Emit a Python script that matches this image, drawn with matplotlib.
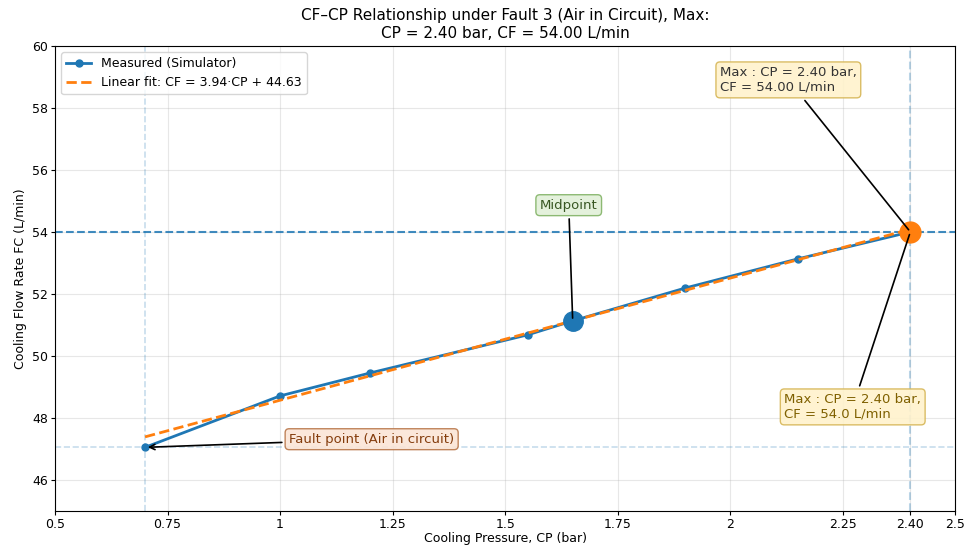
import matplotlib.pyplot as plt
import numpy as np

# measured points (CP in bar, CF in L/min)
cp = [0.70, 1.00, 1.20, 1.55, 1.65, 1.90, 2.15, 2.40]
cf = [47.05, 48.71, 49.45, 50.68, 51.13, 52.19, 53.13, 54.00]

fit_slope = 3.94
fit_intercept = 44.63

mid_cp, mid_cf = 1.65, 51.13
max_cp, max_cf = 2.40, 54.00
fault_cp, fault_cf = 0.70, 47.05

xticks = [0.5, 0.75, 1.0, 1.25, 1.5, 1.75, 2.0, 2.25, 2.40, 2.5]
xtick_labels = ["0.5", "0.75", "1", "1.25", "1.5", "1.75", "2", "2.25", "2.40", "2.5"]
yticks = [46, 48, 50, 52, 54, 56, 58, 60]

fig = plt.figure(figsize=(9.65, 5.47), dpi=100)
ax = fig.add_axes([0.057, 0.066, 0.933, 0.85])

ax.plot(cp, cf, "-o", color="tab:blue", lw=2, ms=5, label="Measured (Simulator)", zorder=3)

x_fit = np.array([min(cp), max(cp)])
ax.plot(x_fit, fit_slope * x_fit + fit_intercept, "--", color="tab:orange", lw=2,
        label=f"Linear fit: CF = {fit_slope:.2f}·CP + {fit_intercept:.2f}", zorder=4)

# reference lines
ax.axhline(max_cf, color="tab:blue", ls="--", lw=1.5, alpha=0.85, zorder=2)
ax.axvline(max_cp, color="tab:blue", ls="--", lw=1.5, alpha=0.3, zorder=2)
ax.axvline(fault_cp, color="tab:blue", ls="--", lw=1.2, alpha=0.25, zorder=2)
ax.axhline(fault_cf, color="tab:blue", ls="--", lw=1.2, alpha=0.25, zorder=2)

# highlighted points
ax.plot(mid_cp, mid_cf, "o", color="tab:blue", ms=14, zorder=5)
ax.plot(max_cp, max_cf, "o", color="tab:orange", ms=15, zorder=5)

ax.annotate(f"Max : CP = {max_cp:.2f} bar,\nCF = {max_cf:.2f} L/min",
            xy=(max_cp, max_cf), xytext=(1.977, 58.55), fontsize=9.5, color="#333333",
            bbox=dict(boxstyle="round,pad=0.3", fc="#fff2cc", ec="#d6b656", alpha=0.9),
            arrowprops=dict(arrowstyle="-", color="black", lw=1.2), zorder=6)

ax.annotate(f"Max : CP = {max_cp:.2f} bar,\nCF = {max_cf:.1f} L/min",
            xy=(max_cp, max_cf), xytext=(2.12, 48.0), fontsize=9.5, color="#7f6000",
            bbox=dict(boxstyle="round,pad=0.3", fc="#fff2cc", ec="#d6b656", alpha=0.9),
            arrowprops=dict(arrowstyle="-", color="black", lw=1.2), zorder=6)

ax.annotate("Midpoint", xy=(mid_cp, mid_cf), xytext=(1.577, 54.75), fontsize=9.5,
            color="#385723",
            bbox=dict(boxstyle="round,pad=0.3", fc="#e2f0d9", ec="#82b366", alpha=0.9),
            arrowprops=dict(arrowstyle="-", color="black", lw=1.2), zorder=6)

ax.annotate("Fault point (Air in circuit)", xy=(fault_cp, fault_cf), xytext=(1.02, 47.2),
            fontsize=9.5, color="#843c0c",
            bbox=dict(boxstyle="round,pad=0.3", fc="#fbe5d6", ec="#b9774a", alpha=0.9),
            arrowprops=dict(arrowstyle="->", color="black", lw=1.2), zorder=6)

ax.set_xlim(0.5, 2.5)
ax.set_ylim(45, 60)
ax.set_xticks(xticks)
ax.set_xticklabels(xtick_labels)
ax.set_yticks(yticks)
ax.tick_params(labelsize=9, length=3, pad=2)
ax.grid(True, alpha=0.3)

ax.set_xlabel("Cooling Pressure, CP (bar)", fontsize=9, labelpad=1)
ax.set_ylabel("Cooling Flow Rate FC (L/min)", fontsize=9)
ax.set_title(f"CF–CP Relationship under Fault 3 (Air in Circuit), Max:\nCP = {max_cp:.2f} bar, CF = {max_cf:.2f} L/min",
             fontsize=11)
ax.legend(loc="upper left", fontsize=9)

fig.savefig("out.png", dpi=100)
